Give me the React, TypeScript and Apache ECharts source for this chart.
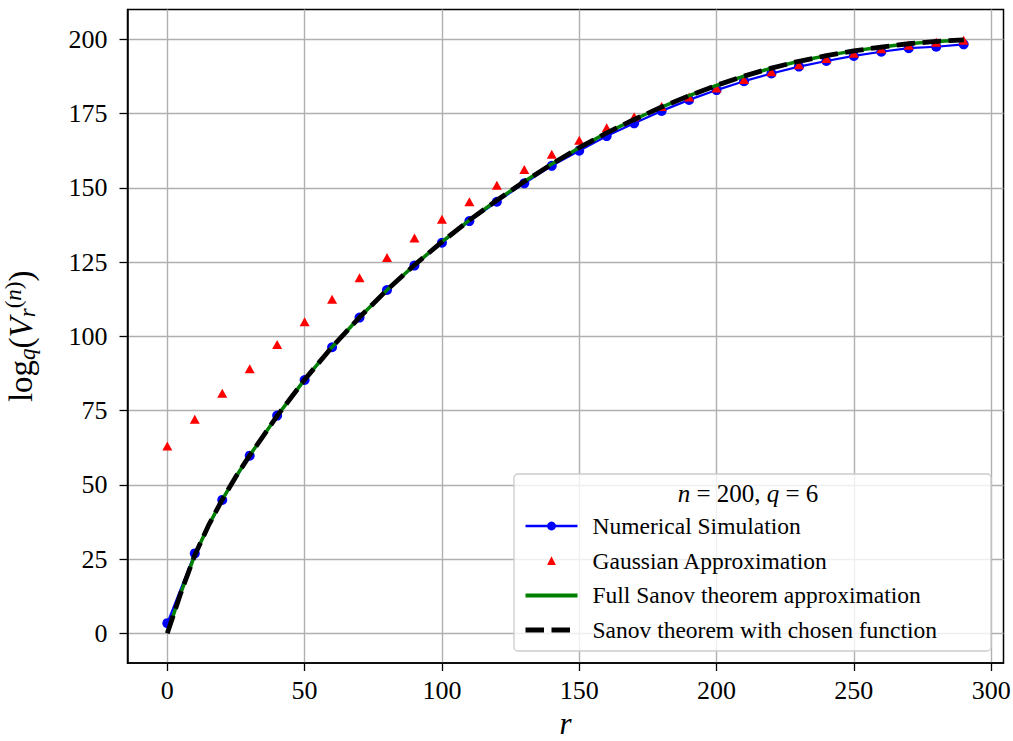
import React, { useEffect, useRef } from "react";
import * as echarts from "echarts";

const rValues = [0, 10, 20, 30, 40, 50, 60, 70, 80, 90, 100, 110, 120, 130, 140, 150, 160, 170, 180, 190, 200, 210, 220, 230, 240, 250, 260, 270, 280, 290];
const numericalSimulation = [3.4, 26.9, 44.9, 59.8, 73.3, 85.3, 96.3, 106.3, 115.6, 123.8, 131.5, 138.8, 145.3, 151.5, 157.4, 162.5, 167.4, 171.7, 175.9, 179.6, 182.9, 185.9, 188.5, 190.8, 192.7, 194.4, 195.8, 197.0, 197.5, 198.3];
const gaussianApprox = [63.1, 72.1, 80.8, 89.1, 97.2, 104.9, 112.5, 119.7, 126.5, 133.1, 139.4, 145.3, 150.9, 156.2, 161.3, 166.0, 170.2, 173.9, 177.4, 180.6, 183.6, 186.5, 189.1, 191.4, 193.5, 195.3, 196.8, 198.0, 199.0, 199.7];
const sanovR = [0, 5, 10, 15, 20, 25, 30, 40, 50, 60, 70, 80, 90, 100, 110, 120, 130, 140, 150, 160, 170, 180, 190, 200, 210, 220, 230, 240, 250, 260, 270, 280, 290];
const fullSanov = [0, 13.8, 26.3, 36.3, 45.0, 52.8, 59.9, 73.2, 85.4, 96.4, 106.4, 115.6, 124.0, 131.8, 139.1, 145.8, 152.1, 158.0, 163.5, 168.5, 173.0, 177.2, 181.0, 184.5, 187.6, 190.3, 192.6, 194.5, 196.1, 197.4, 198.5, 199.3, 199.8];
const sanovChosen = [0, 13.8, 26.3, 36.3, 45.0, 52.8, 59.9, 73.2, 85.4, 96.4, 106.4, 115.6, 124.0, 131.8, 139.1, 145.8, 152.1, 158.0, 163.5, 168.5, 173.0, 177.2, 181.0, 184.5, 187.6, 190.3, 192.6, 194.5, 196.1, 197.4, 198.5, 199.3, 199.8];
const xTicks = [0, 50, 100, 150, 200, 250, 300];
const yTicks = [0, 25, 50, 75, 100, 125, 150, 175, 200];
const seriesNames = ["Numerical Simulation", "Gaussian Approximation", "Full Sanov theorem approximation", "Sanov theorem with chosen function"];

const FONT = "'Liberation Serif', 'DejaVu Serif', serif";
const DASH = [18.5, 7.5];

export default function App() {
  const ref = useRef<HTMLDivElement>(null);
  useEffect(() => {
    if (!ref.current) return;
    const chart = echarts.init(ref.current, null, { renderer: "svg" });
    const pairs = (xs: number[], ys: number[]) => xs.map((x, i) => [x, ys[i]]);
    const option: any = {
      animation: false,
      backgroundColor: "#ffffff",
      textStyle: { fontFamily: FONT },
      grid: {
        left: 127.5,
        right: 9.5,
        top: 9.6,
        bottom: 78,
        show: true,
        borderColor: "#000",
        borderWidth: 1.5,
        backgroundColor: "transparent",
        containLabel: false,
        outerBoundsMode: "none",
      },
      xAxis: {
        type: "value",
        min: -14.5,
        max: 304.5,
        minInterval: 50,
        maxInterval: 50,
        name: "r",
        nameLocation: "middle",
        nameGap: 47,
        nameTextStyle: { fontFamily: FONT, fontStyle: "italic", fontSize: 31, lineHeight: 24, color: "#000" },
        axisLine: { onZero: false, lineStyle: { color: "#000", width: 1.5 } },
        axisTick: { show: true, length: 8, lineStyle: { color: "#000", width: 1.3 }, customValues: xTicks },
        axisLabel: { fontFamily: FONT, fontSize: 26, color: "#000", margin: 14, customValues: xTicks },
        splitLine: { show: true, lineStyle: { color: "#b0b0b0", width: 1.4 } },
      },
      yAxis: {
        type: "value",
        min: -10,
        max: 210,
        minInterval: 25,
        maxInterval: 25,
        name: "{r|log}{sub|q}{r|(}{i|V}{sub|r}{sup|(}{supi|n}{sup|)}{r|)}",
        nameLocation: "middle",
        nameRotate: 90,
        nameGap: 88,
        nameTextStyle: {
          color: "#000",
          fontFamily: FONT,
          rich: {
            r: { fontFamily: FONT, fontSize: 33, color: "#000" },
            i: { fontFamily: FONT, fontSize: 33, fontStyle: "italic", color: "#000" },
            sub: { fontFamily: FONT, fontSize: 23, fontStyle: "italic", color: "#000", padding: [13, 0, 0, 0] },
            sup: { fontFamily: FONT, fontSize: 23, color: "#000", padding: [0, 0, 15, 0] },
            supi: { fontFamily: FONT, fontSize: 23, fontStyle: "italic", color: "#000", padding: [0, 0, 15, 0] },
          },
        },
        axisLine: { onZero: false, lineStyle: { color: "#000", width: 1.5 } },
        axisTick: { show: true, length: 8, lineStyle: { color: "#000", width: 1.3 }, customValues: yTicks },
        axisLabel: { fontFamily: FONT, fontSize: 26, color: "#000", margin: 20, customValues: yTicks },
        splitLine: { show: true, lineStyle: { color: "#b0b0b0", width: 1.4 } },
      },
      legend: {
        show: true,
        orient: "vertical",
        left: 523,
        top: 514,
        padding: 0,
        itemWidth: 52,
        itemHeight: 11,
        itemGap: 10.7,
        z: 6,
        data: [
          { name: seriesNames[0], lineStyle: { width: 2.5 } },
          { name: seriesNames[1] },
          { name: seriesNames[2], itemStyle: { opacity: 0 }, lineStyle: { width: 4, color: "#008000" } },
          { name: seriesNames[3], itemStyle: { opacity: 0 }, lineStyle: { width: 5, color: "#000000", type: DASH } },
        ],
        textStyle: { fontFamily: FONT, fontSize: 23.5, color: "#000", lineHeight: 24, padding: [0, 0, 0, 10] },
      },
      graphic: [
        {
          type: "rect",
          z: 4,
          shape: { x: 514, y: 474, width: 477, height: 177, r: 4 },
          style: { fill: "rgba(255,255,255,0.8)", stroke: "#cccccc", lineWidth: 1.3 },
        },
        {
          type: "text",
          z: 6,
          x: 748,
          y: 493,
          style: {
            text: "{i|n} = 200, {i|q} = 6",
            align: "center",
            verticalAlign: "middle",
            fontFamily: FONT,
            fontSize: 25,
            fill: "#000",
            rich: {
              i: { fontFamily: FONT, fontSize: 25, fontStyle: "italic", fill: "#000" },
            },
          },
        },
      ],
      series: [
        {
          name: seriesNames[0],
          type: "line",
          data: pairs(rValues, numericalSimulation),
          color: "#0000ff",
          lineStyle: { color: "#0000ff", width: 2.2 },
          itemStyle: { color: "#0000ff" },
          symbol: "circle",
          symbolSize: 10,
          showSymbol: true,
          z: 2,
        },
        {
          name: seriesNames[1],
          type: "line",
          data: pairs(rValues, gaussianApprox),
          color: "#ff0000",
          lineStyle: { color: "#ff0000", width: 0, opacity: 0 },
          itemStyle: { color: "#ff0000" },
          symbol: "triangle",
          symbolSize: [10, 9],
          showSymbol: true,
          z: 3,
        },
        {
          name: seriesNames[2],
          type: "line",
          data: pairs(sanovR, fullSanov),
          color: "#008000",
          lineStyle: { color: "#008000", width: 3.5 },
          itemStyle: { color: "#008000" },
          symbol: "none",
          z: 4,
        },
        {
          name: seriesNames[3],
          type: "line",
          data: pairs(sanovR, sanovChosen),
          color: "#000000",
          lineStyle: { color: "#000000", width: 4.8, type: DASH },
          itemStyle: { color: "#000000" },
          symbol: "none",
          z: 5,
        },
      ],
    };
    chart.setOption(option);
    return () => chart.dispose();
  }, []);
  return (
    <div
      ref={ref}
      style={{ position: "fixed", left: 0, top: 0, width: "1013px", height: "741px", background: "#fff" }}
    />
  );
}
